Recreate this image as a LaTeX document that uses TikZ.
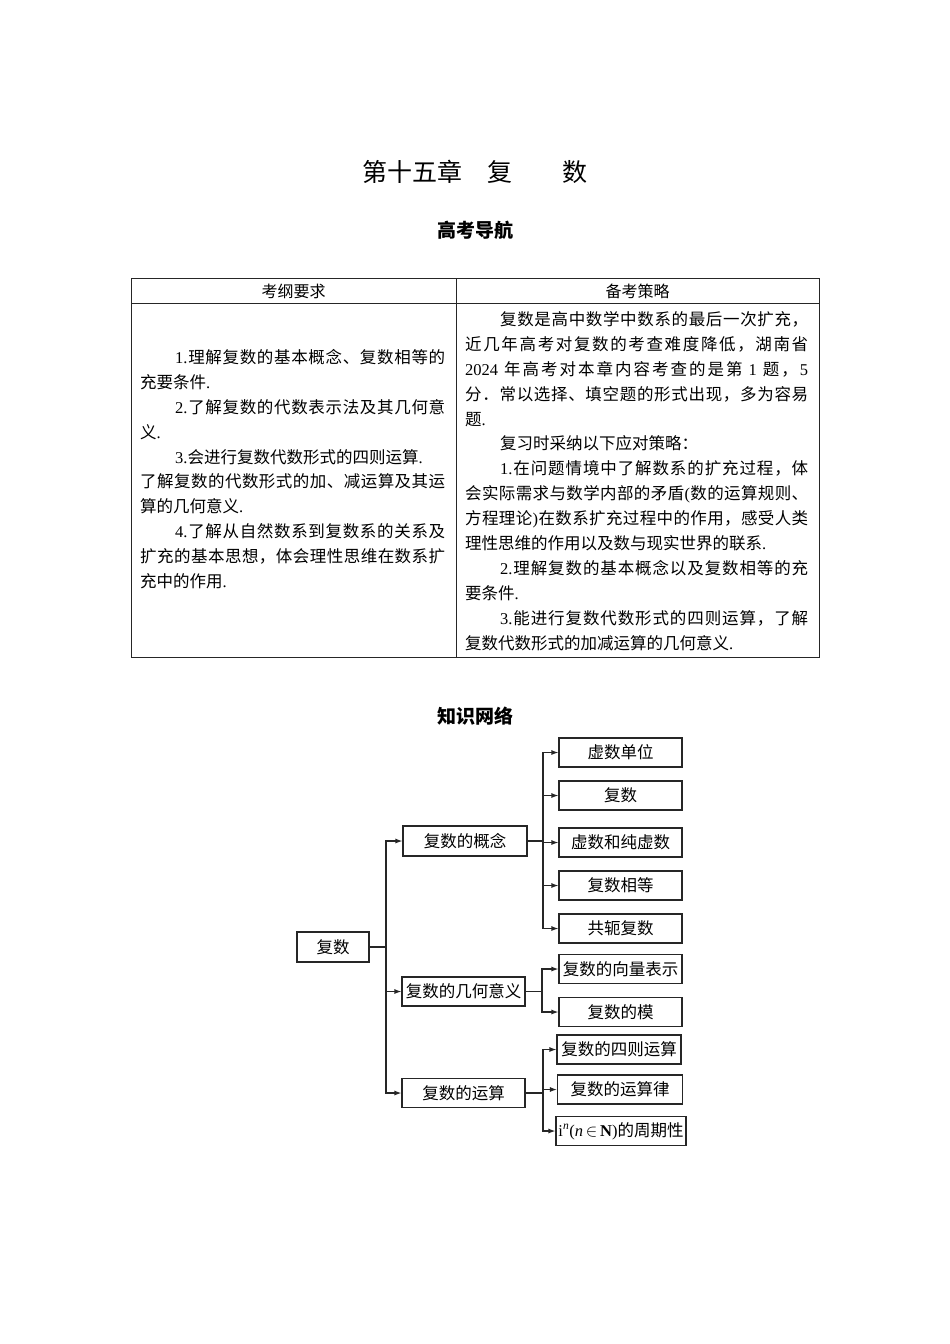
\documentclass[tikz,border=0pt]{standalone}
\usepackage{fontspec}
\setmainfont{Noto Sans CJK SC}
\newfontfamily\lat{Liberation Serif}
\usetikzlibrary{arrows.meta}
% spread the characters of a line evenly over a given width
\def\spreadEnd{SPREADEND}
\def\spread#1{\spreadFirst#1\spreadEnd}
\def\spreadFirst#1{#1\spreadA}
\def\spreadA#1{\ifx#1\spreadEnd\else\hfil#1\expandafter\spreadA\fi}
\newcommand\jlL[1]{\hbox to 305pt{#1}}
\newcommand\jlR[1]{\hbox to 343pt{#1}}
\newcommand\ind{\hskip35pt\relax}
\newcommand\Lone{{\lat 1.}}
\newcommand\Ltwo{{\lat 2.}}
\newcommand\Lthree{{\lat 3.}}
\newcommand\Lfour{{\lat 4.}}
\newcommand\Lyear{{\lat 2024}\hskip4pt\relax}
\newcommand\Lnum{\hskip4pt{\lat 1}\hskip4pt\relax}
\newcommand\Lfive{{\lat 5}}
\newcommand\Lpl{{\lat (}}
\newcommand\Lpr{{\lat )}}
\begin{document}
\begin{tikzpicture}[x=1pt,y=-1pt,
  titlef/.style={inner sep=0pt,font=\fontsize{25}{25}\selectfont},
  headf/.style={inner sep=0pt,font=\fontsize{19}{19}\selectfont\bfseries},
  txt/.style={inner sep=0pt,anchor=base west,font=\fontsize{16.5}{20}\selectfont},
  hdr/.style={inner sep=0pt,font=\fontsize{16}{16}\selectfont},
  tbl/.style={line width=0.9pt,draw=black!85},
  box/.style={draw=black!85,line width=1.1pt,minimum height=29pt,minimum width=123pt,inner xsep=2pt,inner ysep=0pt,font=\fontsize{16.5}{16.5}\selectfont},
  conn/.style={draw=black!85,line width=1.2pt,-{Latex[length=7pt,width=5pt]}}]
\useasboundingbox (0,0) rectangle (950,1344);
\fill[white] (0,0) rectangle (950,1344);

% titles
\node[titlef] (title) at (475,172) {第十五章　复　　数};
\node[headf] (gkdh) at (475,230) {高考导航};

% table
\draw[tbl] (131,278) rectangle (819,657);
\draw[tbl] (131,303) -- (819,303);
\draw[tbl] (456,278) -- (456,657);
\node[hdr] (h1) at (293.5,291) {考纲要求};
\node[hdr] (h2) at (637.5,291) {备考策略};

% left column
\node[txt] (a1) at (140,363) {\jlL{\ind\spread{\Lone 理解复数的基本概念、复数相等的}}};
\node[txt] (a2) at (140,388) {充要条件{\lat .}};
\node[txt] (a3) at (140,413) {\jlL{\ind\spread{\Ltwo 了解复数的代数表示法及其几何意}}};
\node[txt] (a4) at (140,438) {义{\lat .}};
\node[txt] (a5) at (140,463) {\ind{\lat 3.}会进行复数代数形式的四则运算{\lat .}};
\node[txt] (a6) at (140,487) {\jlL{\spread{了解复数的代数形式的加、减运算及其运}}};
\node[txt] (a7) at (140,512) {算的几何意义{\lat .}};
\node[txt] (a8) at (140,537) {\jlL{\ind\spread{\Lfour 了解从自然数系到复数系的关系及}}};
\node[txt] (a9) at (140,562) {\jlL{\spread{扩充的基本思想，体会理性思维在数系扩}}};
\node[txt] (a10) at (140,587) {充中的作用{\lat .}};

% right column
\node[txt] (b1) at (465,325) {\jlR{\ind\spread{复数是高中数学中数系的最后一次扩充，}}};
\node[txt] (b2) at (465,350) {\jlR{\spread{近几年高考对复数的考查难度降低，湖南省}}};
\node[txt] (b3) at (465,375) {\jlR{\spread{\Lyear 年高考对本章内容考查的是第\Lnum 题，\Lfive}}};
\node[txt] (b4) at (465,400) {\jlR{\spread{分．常以选择、填空题的形式出现，多为容易}}};
\node[txt] (b5) at (465,425) {题{\lat .}};
\node[txt] (b6) at (465,449) {\ind 复习时采纳以下应对策略：};
\node[txt] (b7) at (465,474) {\jlR{\ind\spread{\Lone 在问题情境中了解数系的扩充过程，体}}};
\node[txt] (b8) at (465,499) {\jlR{\spread{会实际需求与数学内部的矛盾\Lpl 数的运算规则、}}};
\node[txt] (b9) at (465,524) {\jlR{\spread{方程理论\Lpr 在数系扩充过程中的作用，感受人类}}};
\node[txt] (b10) at (465,549) {理性思维的作用以及数与现实世界的联系{\lat .}};
\node[txt] (b11) at (465,574) {\jlR{\ind\spread{\Ltwo 理解复数的基本概念以及复数相等的充}}};
\node[txt] (b12) at (465,599) {要条件{\lat .}};
\node[txt] (b13) at (465,624) {\jlR{\ind\spread{\Lthree 能进行复数代数形式的四则运算，了解}}};
\node[txt] (b14) at (465,649) {复数代数形式的加减运算的几何意义{\lat .}};

% knowledge network
\node[headf] (zswl) at (475,716) {知识网络};

\node[box,minimum width=72pt,minimum height=30pt] (root) at (333,947) {复数};
\node[box,minimum width=124pt,minimum height=30pt] (c1) at (465,841) {复数的概念};
\node[box] (c2) at (463.5,991.5) {复数的几何意义};
\node[box] (c3) at (463.5,1093) {复数的运算};

\node[box] (k1) at (620.5,752.5) {虚数单位};
\node[box] (k2) at (620.5,795.5) {复数};
\node[box] (k3) at (620.5,842.5) {虚数和纯虚数};
\node[box] (k4) at (620.5,885.5) {复数相等};
\node[box] (k5) at (620.5,928.5) {共轭复数};

\node[box] (g1) at (620.5,969) {复数的向量表示};
\node[box] (g2) at (620.5,1012) {复数的模};

\node[box,minimum width=124pt] (r1) at (619,1049.5) {复数的四则运算};
\node[box,minimum width=125pt] (r2) at (620,1089.5) {复数的运算律};
\node[box,minimum width=130pt] (r3) at (621,1131) {{\lat i\textsuperscript{\itshape n}(\textit{n}\,}$\in${\lat\,\textbf{N})}的周期性};

\coordinate (j0) at (386,947);
\coordinate (j1) at (543,841);
\coordinate (j2) at (542,991.5);
\coordinate (j3) at (543,1093);

\foreach \t in {c1,c2,c3} \draw[conn] (root.east) -- (j0) |- (\t.west);
\foreach \t in {k1,k2,k3,k4,k5} \draw[conn] (c1.east) -- (j1) |- (\t.west);
\foreach \t in {g1,g2} \draw[conn] (c2.east) -- (j2) |- (\t.west);
\foreach \t in {r1,r2,r3} \draw[conn] (c3.east) -- (j3) |- (\t.west);
\end{tikzpicture}
\end{document}
